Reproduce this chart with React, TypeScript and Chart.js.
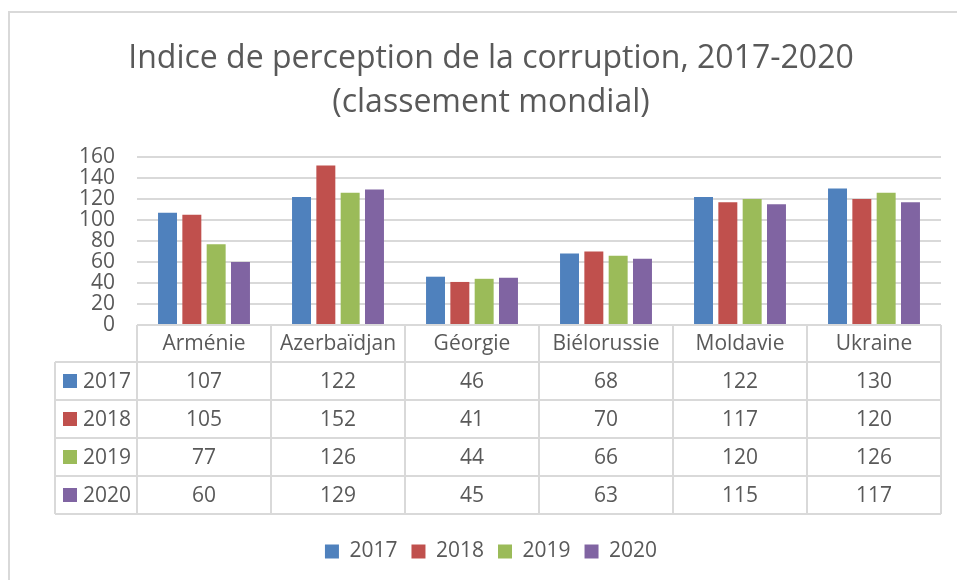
import React, { useEffect, useRef } from "react";
import { Chart, registerables } from "chart.js";

Chart.register(...registerables);

const TITLE_LINES = ["Indice de perception de la corruption, 2017-2020", "(classement mondial)"];
const CATEGORIES = ["Arménie", "Azerbaïdjan", "Géorgie", "Biélorussie", "Moldavie", "Ukraine"];
const SERIES_NAMES = ["2017", "2018", "2019", "2020"];
const VALUES_2017 = [107, 122, 46, 68, 122, 130];
const VALUES_2018 = [105, 152, 41, 70, 117, 120];
const VALUES_2019 = [77, 126, 44, 66, 120, 126];
const VALUES_2020 = [60, 129, 45, 63, 115, 117];
const SERIES_VALUES = [VALUES_2017, VALUES_2018, VALUES_2019, VALUES_2020];
const SERIES_COLORS = ["#4F81BD", "#C0504D", "#9BBB59", "#8064A2"];
const Y_MIN = 0;
const Y_MAX = 160;
const Y_STEP = 20;

const FONT = '"Open Sans", "Noto Sans", sans-serif';
const TEXT = "#595959";
const LINE = "#d9d9d9";

const framePlugin = {
  id: "frame",
  beforeDraw(chart: any) {
    const ctx = chart.ctx;
    ctx.save();
    ctx.fillStyle = "#ffffff";
    ctx.fillRect(0, 0, chart.width, chart.height);
    ctx.strokeStyle = LINE;
    ctx.lineWidth = 2;
    ctx.strokeRect(9, 12, chart.width + 40, chart.height + 40);
    ctx.restore();
  },
};

const titlePlugin = {
  id: "customTitle",
  afterDraw(chart: any) {
    const ctx = chart.ctx;
    const cx = (chart.scales.y.left + chart.chartArea.right) / 2;
    ctx.save();
    ctx.fillStyle = TEXT;
    ctx.font = `32px ${FONT}`;
    ctx.textAlign = "center";
    ctx.textBaseline = "alphabetic";
    ctx.fillText(TITLE_LINES[0], cx, 68);
    ctx.fillText(TITLE_LINES[1], cx, 112);
    ctx.restore();
  },
};

const tablePlugin = {
  id: "dataTable",
  afterDraw(chart: any) {
    const ctx = chart.ctx;
    const area = chart.chartArea;
    const xs = chart.scales.x;
    const n = CATEGORIES.length;
    const colW = (area.right - area.left) / n;
    const headerH = 37;
    const rowH = 38;
    const top = area.bottom;
    const labelLeft = 55;
    const rowsTop = top + headerH;
    const bottom = rowsTop + rowH * SERIES_NAMES.length;

    ctx.save();
    ctx.strokeStyle = LINE;
    ctx.lineWidth = 2;
    ctx.beginPath();
    ctx.moveTo(area.left, top);
    ctx.lineTo(area.right, top);
    for (let r = 0; r <= SERIES_NAMES.length; r++) {
      const y = rowsTop + r * rowH;
      ctx.moveTo(labelLeft, y);
      ctx.lineTo(area.right, y);
    }
    ctx.moveTo(labelLeft, rowsTop);
    ctx.lineTo(labelLeft, bottom);
    for (let c = 0; c <= n; c++) {
      const x = area.left + c * colW;
      ctx.moveTo(x, top);
      ctx.lineTo(x, bottom);
    }
    ctx.stroke();

    ctx.fillStyle = TEXT;
    ctx.font = `21px ${FONT}`;
    ctx.textAlign = "center";
    ctx.textBaseline = "middle";
    CATEGORIES.forEach((cat, i) => {
      const cx = xs.getPixelForValue(i);
      ctx.fillText(cat, cx, top + headerH / 2 + 1);
    });
    SERIES_NAMES.forEach((name, r) => {
      const cy = rowsTop + r * rowH + rowH / 2 + 1;
      ctx.fillStyle = SERIES_COLORS[r];
      ctx.fillRect(63, cy - 8, 14, 14);
      ctx.fillStyle = TEXT;
      ctx.textAlign = "left";
      ctx.fillText(name, 83, cy);
      ctx.textAlign = "center";
      SERIES_VALUES[r].forEach((v, i) => {
        ctx.fillText(String(v), xs.getPixelForValue(i), cy);
      });
    });
    ctx.restore();
  },
};

export default function App() {
  const ref = useRef<HTMLCanvasElement | null>(null);
  useEffect(() => {
    if (!ref.current) return;
    const chart = new Chart(ref.current, {
      type: "bar",
      data: {
        labels: CATEGORIES,
        datasets: SERIES_NAMES.map((name, i) => ({
          label: name,
          data: SERIES_VALUES[i],
          backgroundColor: SERIES_COLORS[i],
          borderWidth: 0,
          categoryPercentage: 0.726,
          barPercentage: 0.78,
        })),
      },
      options: {
        animation: false,
        responsive: true,
        maintainAspectRatio: false,
        layout: { padding: { top: 157, left: 41, right: 16, bottom: 8 } },
        plugins: {
          title: { display: false },
          tooltip: { enabled: false },
          legend: {
            position: "bottom",
            labels: {
              boxWidth: 14,
              boxHeight: 14,
              padding: 14,
              color: TEXT,
              font: { family: FONT, size: 21 },
            },
          },
        },
        scales: {
          x: {
            grid: { display: false },
            border: { display: false },
            ticks: { display: false },
            afterFit: (s: any) => {
              s.height = 202;
            },
          },
          y: {
            min: Y_MIN,
            max: Y_MAX,
            ticks: {
              stepSize: Y_STEP,
              autoSkip: false,
              color: TEXT,
              padding: 22,
              font: { family: FONT, size: 21 },
            },
            grid: { color: LINE, lineWidth: 2, drawTicks: false },
            border: { display: false },
            afterFit: (s: any) => {
              s.width = 96;
            },
          },
        },
      },
      plugins: [framePlugin, titlePlugin, tablePlugin],
    });
    return () => chart.destroy();
  }, []);
  return (
    <div style={{ position: "absolute", left: 0, top: 0, width: 957, height: 580 }}>
      <canvas ref={ref} />
    </div>
  );
}
